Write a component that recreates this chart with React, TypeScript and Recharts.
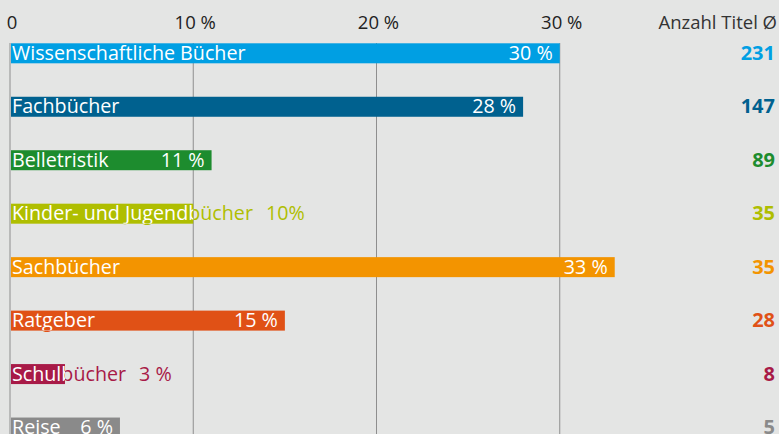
import React from 'react';
import { BarChart, Bar, XAxis, YAxis, CartesianGrid } from 'recharts';

const categories = ['Wissenschaftliche Bücher', 'Fachbücher', 'Belletristik', 'Kinder- und Jugendbücher', 'Sachbücher', 'Ratgeber', 'Schulbücher', 'Reise'];
const shares = [30, 28, 11, 10, 33, 15, 3, 6];
const shareLabels = ['30 %', '28 %', '11 %', '10%', '33 %', '15 %', '3 %', '6 %'];
const titleCounts = [231, 147, 89, 35, 35, 28, 8, 5];
const colors = ['#009fe3', '#00618f', '#1d8c2e', '#afbe00', '#f39400', '#e05116', '#a81a47', '#8a8a8a'];
const xTicks = [0, 10, 20, 30];
const xTickLabels = ['0', '10 %', '20 %', '30 %'];

const data = categories.map((name, i) => ({ name, share: shares[i], label: shareLabels[i], count: titleCounts[i], color: colors[i] }));

const FONT = '"Open Sans", "Noto Sans", sans-serif';
const FS = 19.7;
let ctx: CanvasRenderingContext2D | null = null;
function measure(t: string): number {
  if (!ctx) ctx = document.createElement('canvas').getContext('2d');
  if (!ctx) return t.length * 10;
  ctx.font = `${FS}px "Open Sans"`;
  return ctx.measureText(t).width;
}

const BarShape = (props: any) => {
  const { x, y, width, height, index, payload } = props;
  const color = payload.color;
  const nameX = x + 2;
  const nameEnd = nameX + measure(payload.name);
  const pctW = measure(payload.label);
  const pctX = Math.max(x + width - 7 - pctW, nameEnd + 13);
  const ty = y + height / 2;
  const id = `clip-bar-${index}`;
  const texts = (fill: string) => (
    <g fill={fill} fontFamily={FONT} fontSize={FS}>
      <text x={nameX} y={ty} dy="0.34em">{payload.name}</text>
      <text x={pctX} y={ty} dy="0.34em">{payload.label}</text>
    </g>
  );
  return (
    <g>
      <defs>
        <clipPath id={id}>
          <rect x={x} y={y} width={width} height={height} />
        </clipPath>
      </defs>
      <rect x={x + 1} y={y} width={Math.max(0, width - 1)} height={height} fill={color} />
      {texts(color)}
      <g clipPath={`url(#${id})`}>{texts('#ffffff')}</g>
    </g>
  );
};

const XTick = (props: any) => {
  const { x, payload, index } = props;
  return (
    <text x={x + 2} y={29} textAnchor="middle" fontFamily={FONT} fontSize={18.5} fill="#222">
      {xTickLabels[index] ?? String(payload.value)}
    </text>
  );
};

const CountTick = (props: any) => {
  const { x, y, index } = props;
  const d = data[index];
  if (!d) return null;
  return (
    <text x={x + 32} y={y} dy="0.35em" textAnchor="end" fontFamily={FONT} fontSize={20} fontWeight={700} fill={d.color}>
      {d.count}
    </text>
  );
};

const HeaderLabel = (props: any) => {
  const vb = props.viewBox || { x: 743, width: 36 };
  return (
    <text x={vb.x + 34} y={29} textAnchor="end" fontFamily={FONT} fontSize={18.5} fill="#333">
      Anzahl Titel Ø
    </text>
  );
};

const gridX = (p: any) => {
  const scale = p?.xAxis?.scale;
  if (scale && typeof scale === 'function') return xTicks.map((t) => scale(t));
  if (scale && typeof scale.map === 'function') return xTicks.map((t) => scale.map(t));
  return [];
};

export default function App() {
  return (
    <div style={{ position: 'fixed', left: 0, top: 0, width: 779, height: 434, overflow: 'hidden', background: '#e4e5e4' }}>
      <BarChart
        width={779}
        height={454}
        data={data}
        layout="vertical"
        margin={{ top: 0, right: 0, bottom: 0, left: 10 }}
        barSize={20}
      >
        <CartesianGrid horizontal={false} vertical stroke="#8e8e8e" strokeWidth={1} verticalCoordinatesGenerator={gridX} />
        <XAxis
          type="number"
          orientation="top"
          domain={[0, 40]}
          ticks={xTicks}
          height={43}
          axisLine={false}
          tickLine={false}
          tick={<XTick />}
          interval={0}
        />
        <YAxis yAxisId="l" type="category" dataKey="name" hide padding={{ top: -16.7, bottom: 0 }} />
        <YAxis
          yAxisId="r"
          type="category"
          dataKey="name"
          orientation="right"
          width={36}
          axisLine={false}
          tickLine={false}
          tickSize={0}
          tickMargin={0}
          padding={{ top: -16.7, bottom: 0 }}
          tick={<CountTick />}
          interval={0}
          label={<HeaderLabel />}
        />
        <Bar yAxisId="l" dataKey="share" isAnimationActive={false} shape={<BarShape />} />
      </BarChart>
    </div>
  );
}
